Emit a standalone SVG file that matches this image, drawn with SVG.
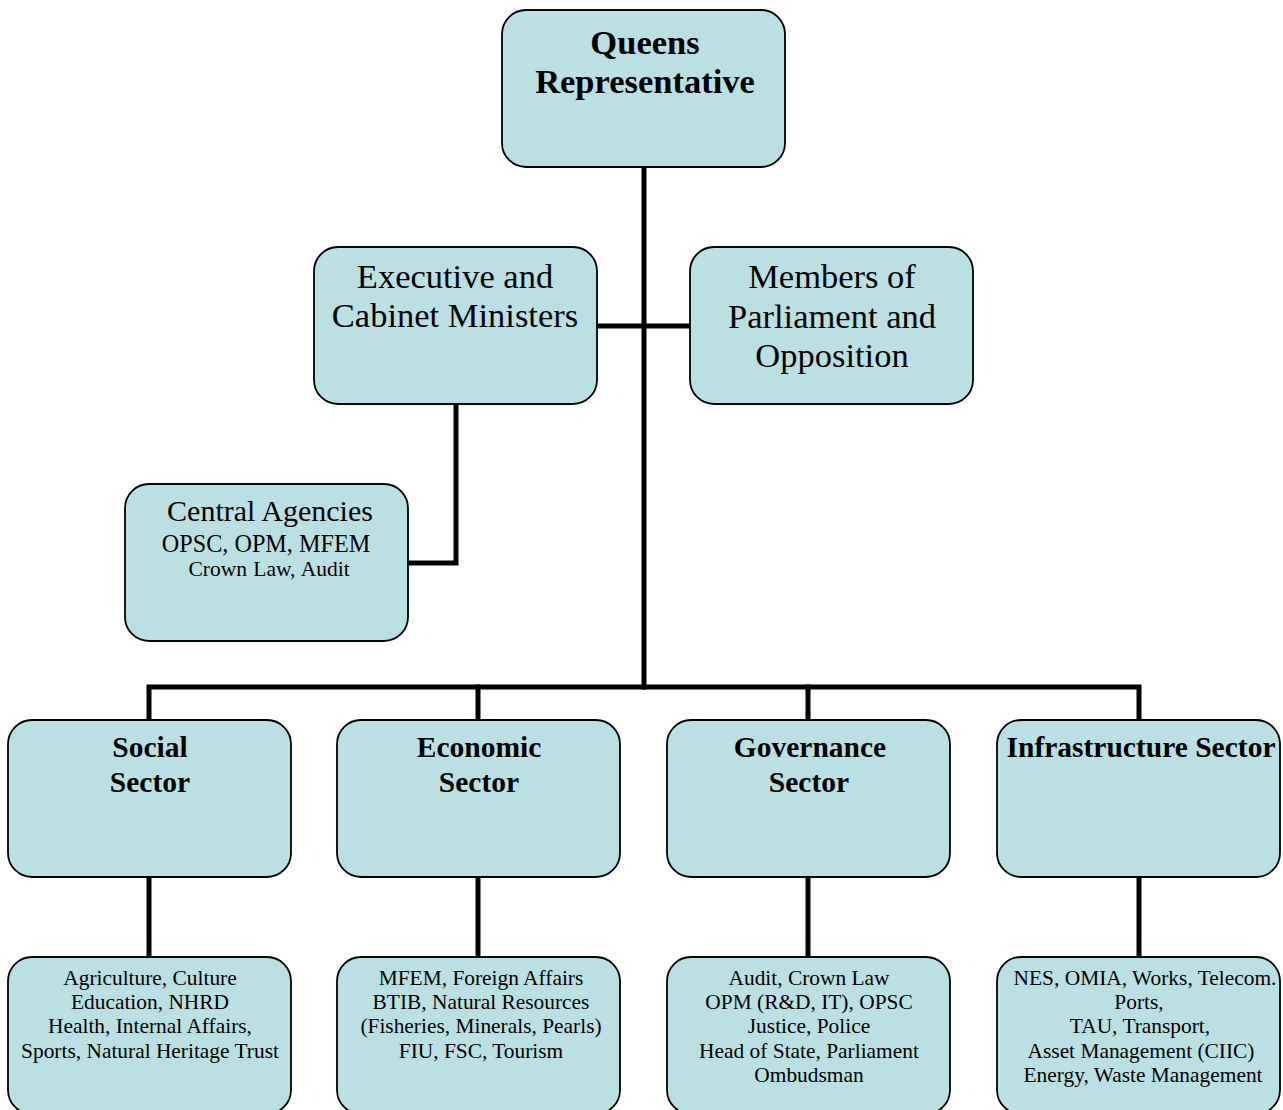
<svg xmlns="http://www.w3.org/2000/svg" width="1283" height="1110" viewBox="0 0 1283 1110">
<style>
.box{fill:#BAE0E3;stroke:#000;stroke-width:1.8}
.con{stroke:#000;stroke-width:5;fill:none;stroke-linecap:square}
text{font-family:"Liberation Serif","Times New Roman",serif;fill:#000;text-anchor:middle}
.t1{font-size:34.5px;font-weight:bold}
.t2{font-size:34.5px}
.t3{font-size:29.5px;font-weight:bold}
.ca{font-size:30px}
.cb{font-size:24.2px}
.cc{font-size:21.5px;word-spacing:1px}
.sm{font-size:21.4px}
</style>
<rect width="1283" height="1110" fill="#fff"/>
<g id="connectors">
<path class="con" d="M644,167 V687"/>
<path class="con" d="M597,326 H690"/>
<path class="con" d="M456,404 V563 H408"/>
<path class="con" d="M149,720 V687 H1139 V720"/>
<path class="con" d="M478,687 V720"/>
<path class="con" d="M808,687 V720"/>
<path class="con" d="M149,877 V957"/>
<path class="con" d="M478,877 V957"/>
<path class="con" d="M808,877 V957"/>
<path class="con" d="M1139,877 V957"/>
</g>
<g id="queens">
<rect class="box" x="502" y="10" width="283" height="157" rx="24"/>
<text class="t1" x="645" y="54">Queens</text>
<text class="t1" x="645" y="93">Representative</text>
</g>
<g id="executive">
<rect class="box" x="314" y="247" width="283" height="157" rx="24"/>
<text class="t2" x="455" y="288">Executive and</text>
<text class="t2" x="455" y="327">Cabinet Ministers</text>
</g>
<g id="members">
<rect class="box" x="690" y="247" width="283" height="157" rx="24"/>
<text class="t2" x="832" y="288">Members of</text>
<text class="t2" x="832" y="328">Parliament and</text>
<text class="t2" x="832" y="367">Opposition</text>
</g>
<g id="central">
<rect class="box" x="125" y="484" width="283" height="157" rx="24"/>
<text class="ca" x="270" y="521">Central Agencies</text>
<text class="cb" x="266" y="552">OPSC, OPM, MFEM</text>
<text class="cc" x="269" y="576">Crown Law, Audit</text>
</g>
<g id="social">
<rect class="box" x="8" y="720" width="283" height="157" rx="24"/>
<text class="t3" x="150" y="757">Social</text>
<text class="t3" x="150" y="792">Sector</text>
</g>
<g id="economic">
<rect class="box" x="337" y="720" width="283" height="157" rx="24"/>
<text class="t3" x="479" y="757">Economic</text>
<text class="t3" x="479" y="792">Sector</text>
</g>
<g id="governance">
<rect class="box" x="667" y="720" width="283" height="157" rx="24"/>
<text class="t3" x="810" y="757">Governance</text>
<text class="t3" x="809" y="792">Sector</text>
</g>
<g id="infrastructure">
<rect class="box" x="997" y="720" width="283" height="157" rx="24"/>
<text class="t3" x="1141" y="757">Infrastructure Sector</text>
</g>
<g id="social-list">
<rect class="box" x="8" y="957" width="283" height="157" rx="24"/>
<text class="sm" x="150" y="985">Agriculture, Culture</text>
<text class="sm" x="150" y="1009">Education, NHRD</text>
<text class="sm" x="150" y="1033">Health, Internal Affairs,</text>
<text class="sm" x="150" y="1058">Sports, Natural Heritage Trust</text>
</g>
<g id="economic-list">
<rect class="box" x="337" y="957" width="283" height="157" rx="24"/>
<text class="sm" x="481" y="985">MFEM, Foreign Affairs</text>
<text class="sm" x="481" y="1009">BTIB, Natural Resources</text>
<text class="sm" x="481" y="1033">(Fisheries, Minerals, Pearls)</text>
<text class="sm" x="481" y="1058">FIU, FSC, Tourism</text>
</g>
<g id="governance-list">
<rect class="box" x="667" y="957" width="283" height="157" rx="24"/>
<text class="sm" x="809" y="985">Audit, Crown Law</text>
<text class="sm" x="809" y="1009">OPM (R&amp;D, IT), OPSC</text>
<text class="sm" x="809" y="1033">Justice, Police</text>
<text class="sm" x="809" y="1058">Head of State, Parliament</text>
<text class="sm" x="809" y="1082">Ombudsman</text>
</g>
<g id="infrastructure-list">
<rect class="box" x="997" y="957" width="283" height="157" rx="24"/>
<text class="sm" x="1145" y="985">NES, OMIA, Works, Telecom.</text>
<text class="sm" x="1139" y="1009">Ports,</text>
<text class="sm" x="1140" y="1033">TAU, Transport,</text>
<text class="sm" x="1141" y="1058">Asset Management (CIIC)</text>
<text class="sm" x="1143" y="1082">Energy, Waste Management</text>
</g>
</svg>
